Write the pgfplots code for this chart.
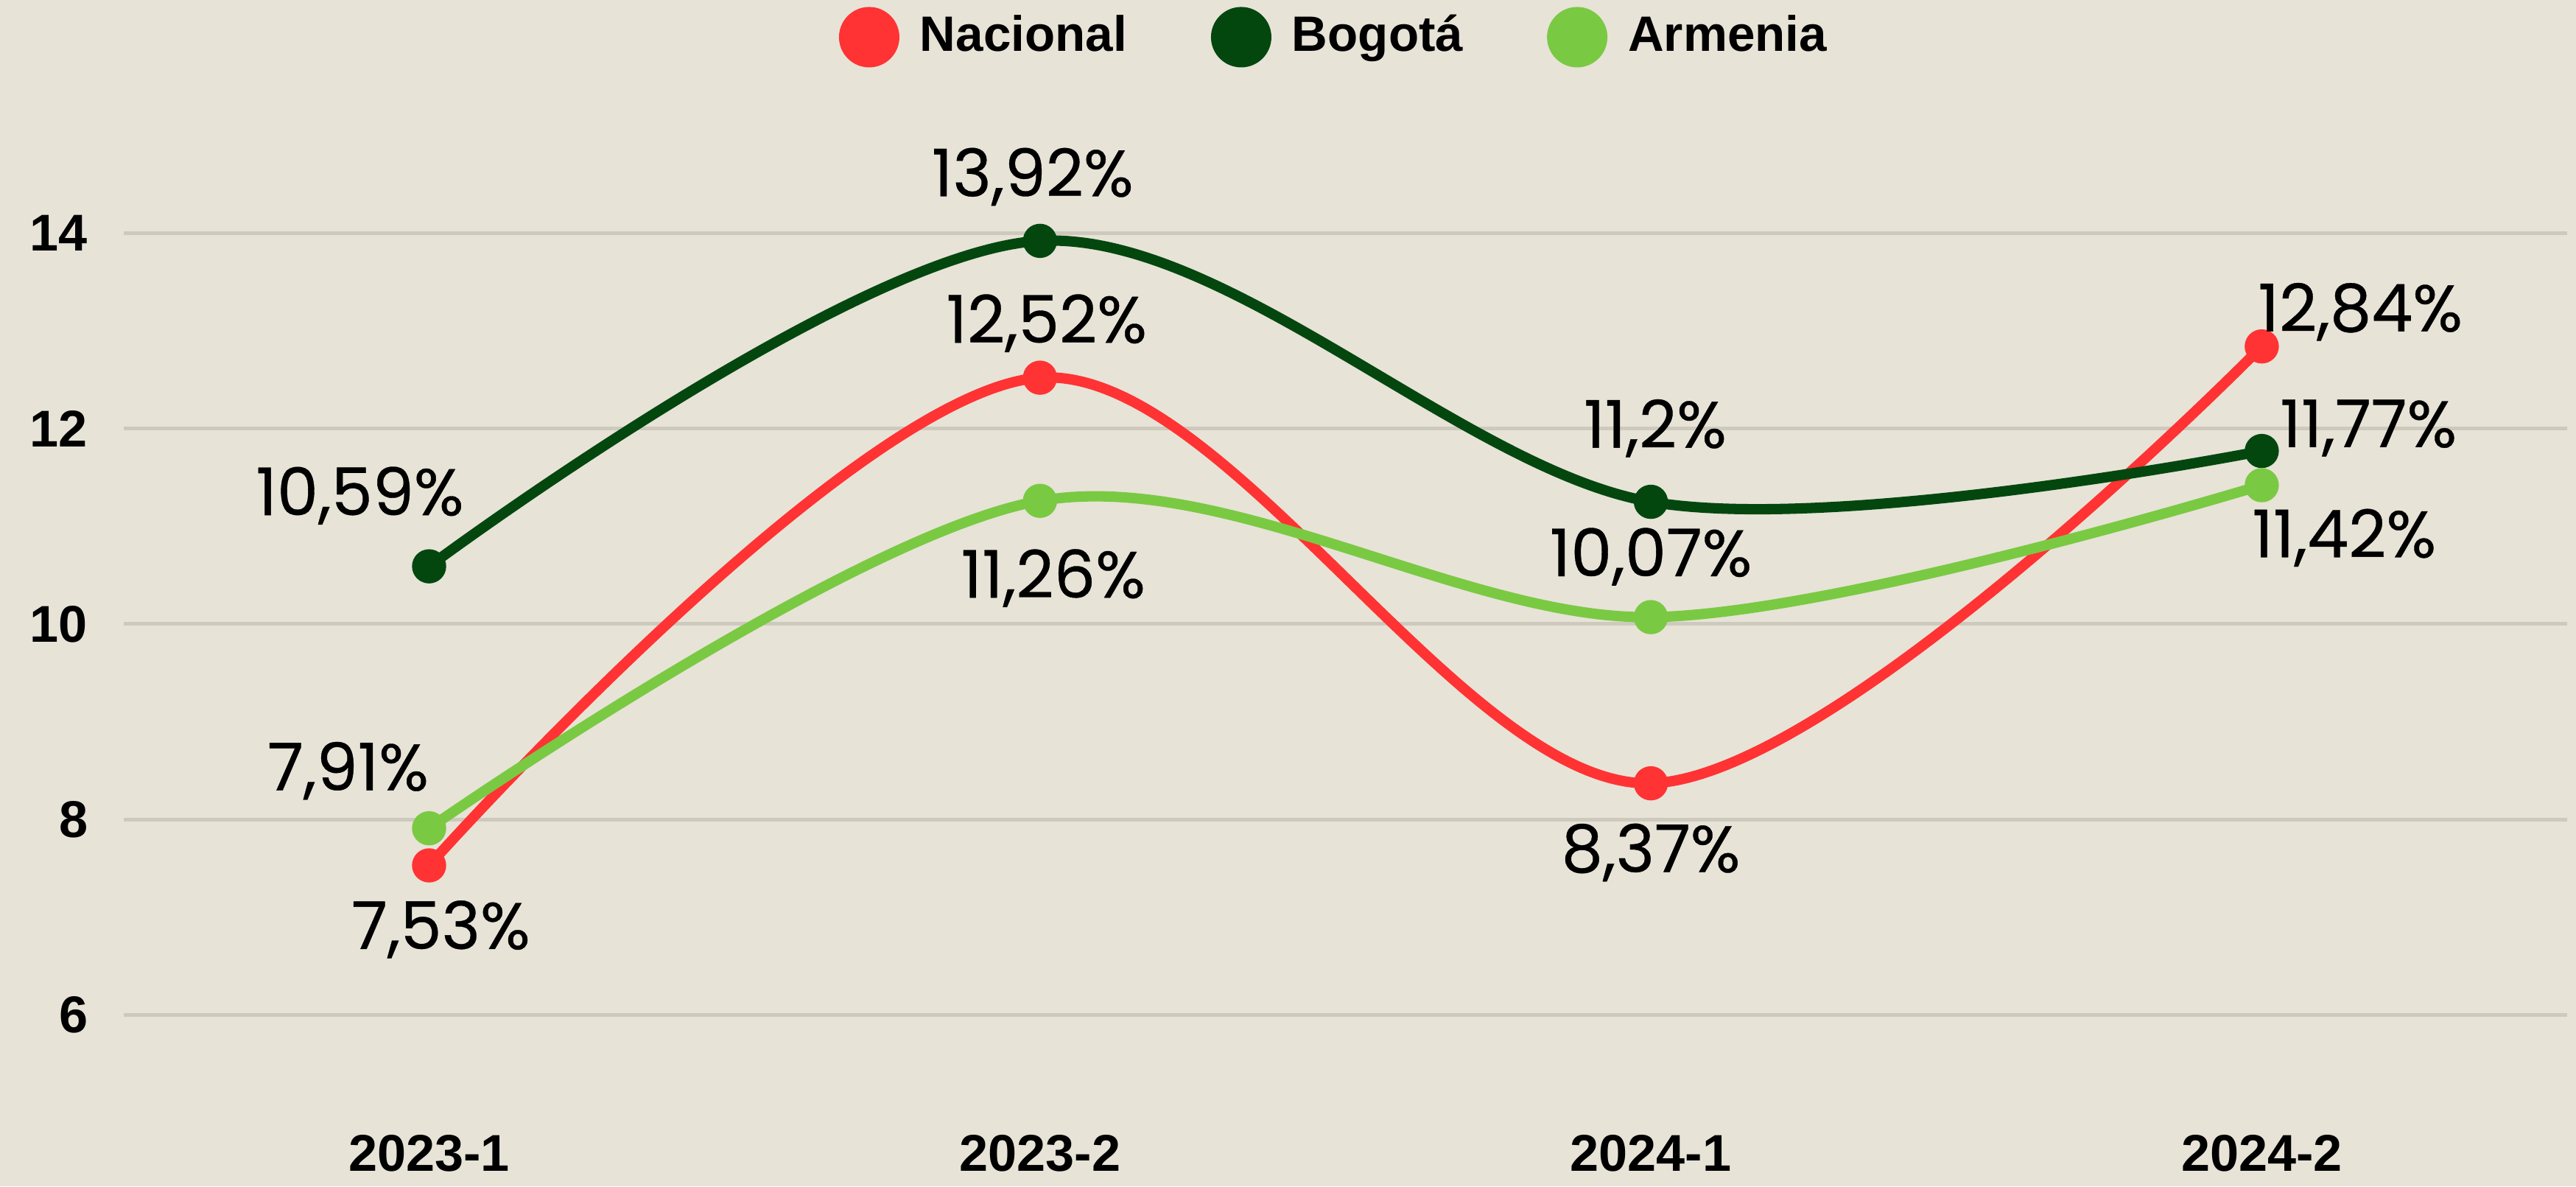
\documentclass[border=0pt]{standalone}
\usepackage{pgfplots}
\pgfplotsset{compat=1.18}
\usepackage{pgfplotstable}
\usepackage{fontspec}
\setmainfont{Liberation Sans}
\newfontfamily\labelfont[FakeBold=0.4]{Poppins}

\definecolor{bg}{HTML}{E7E3D7}
\definecolor{gridc}{HTML}{CDC9BC}
\definecolor{nacional}{HTML}{FF3333}
\definecolor{bogota}{HTML}{03470F}
\definecolor{armenia}{HTML}{7AC943}

% x y label shift-x shift-y (cm)
\pgfplotstableread{
x y    lbl   dx    dy
0 7.53 7,53  0.08  -0.435
1 12.52 12,52 0.045 0.37
2 8.37 8,37  0.0   -0.47
3 12.84 12,84 0.67 0.235
}\nacional
\pgfplotstableread{
x y    lbl   dx    dy
0 10.59 10,59 -0.47 0.48
1 13.92 13,92 -0.05 0.435
2 11.25 11,2  0.03  0.50
3 11.77 11,77 0.725 0.156
}\bogota
\pgfplotstableread{
x y    lbl   dx    dy
0 7.91 7,91  -0.55 0.39
1 11.26 11,26 0.09 -0.525
2 10.07 10,07 0.0  0.41
3 11.42 11,42 0.56 -0.357
}\armenia

\begin{document}
\begin{tikzpicture}
\path[fill=bg, use as bounding box] (0,0) rectangle (17.5cm,8.057cm);
\begin{axis}[
  at={(0.84cm,0.50cm)}, anchor=south west,
  scale only axis,
  width=16.6cm, height=6.97cm,
  xmin=-0.5, xmax=3.5,
  ymin=5, ymax=15.5,
  xtick={0,1,2,3},
  xticklabels={2023-1,2023-2,2024-1,2024-2},
  ytick={6,8,10,12,14},
  axis line style={draw=none},
  major tick length=0pt,
  ymajorgrids,
  grid style={gridc, line width=0.7pt},
  /pgf/number format/assume math mode=true,
  ticklabel style={font=\bfseries\fontsize{10}{12}\selectfont},
  yticklabel style={xshift=-0.12cm},
  xticklabel style={yshift=-0.03cm},
  clip=false,
  legend columns=3,
  legend cell align=left,
  legend style={at={(0.497,1.048)}, anchor=center, draw=none, fill=none,
    font=\bfseries\fontsize{9.6}{12}\selectfont,
    /tikz/every even column/.append style={column sep=0.5cm}},
  legend image code/.code={\fill[#1] (0.17cm,0cm) circle (0.17cm); \path (0.41cm,0cm);},
  every axis plot/.append style={line width=2pt, smooth, tension=0.55,
    mark=*, mark size=2.3pt, mark options={solid}},
  point meta=explicit symbolic,
  nodes near coords={\pgfplotspointmeta\%},
  visualization depends on={\thisrow{dx}\as\dx},
  visualization depends on={\thisrow{dy}\as\dy},
  every node near coord/.append style={anchor=center, xshift=\dx cm, yshift=\dy cm,
    font=\labelfont\fontsize{12.7}{15}\selectfont, text=black},
]
\addplot[color=nacional] table[x=x, y=y, meta=lbl] {\nacional};
\addlegendentry{Nacional}
\addplot[color=bogota] table[x=x, y=y, meta=lbl] {\bogota};
\addlegendentry{Bogotá}
\addplot[color=armenia] table[x=x, y=y, meta=lbl] {\armenia};
\addlegendentry{Armenia}
\end{axis}
\end{tikzpicture}
\end{document}
